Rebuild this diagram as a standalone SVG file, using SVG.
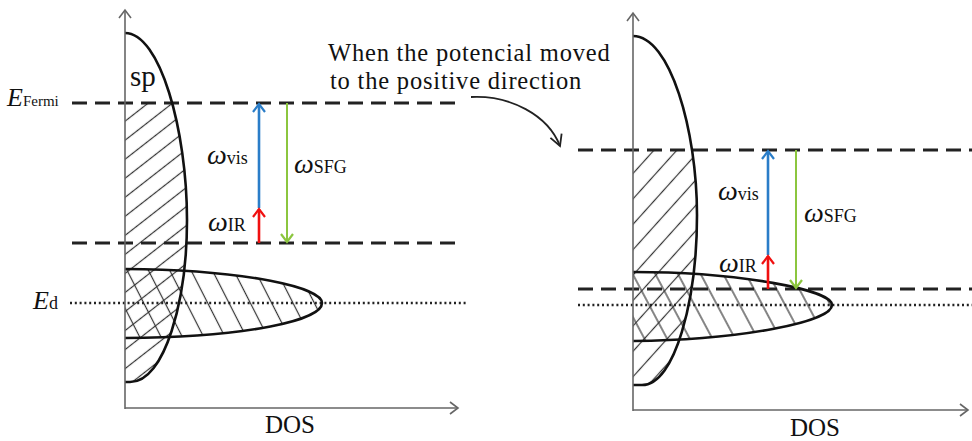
<svg xmlns="http://www.w3.org/2000/svg" width="972" height="441" viewBox="0 0 972 441">
<style>
text{font-family:"Liberation Serif","Times New Roman",serif;fill:#111}
.axis{stroke:#666;stroke-width:1.6;fill:none}
.curve{stroke:#111;stroke-width:2.6;fill:none}
.dash{stroke:#222;stroke-width:2.8;stroke-dasharray:15 8;fill:none}
.dot{stroke:#222;stroke-width:2.4;stroke-dasharray:2 2.8;fill:none}
.hatch{stroke:#333;stroke-width:1.2}
.w{font-style:italic;font-size:28px}
.sub{font-size:18px}
.big{font-size:24.5px;letter-spacing:0.8px}
</style>
<defs>
<marker id="axArrow" markerUnits="userSpaceOnUse" markerWidth="14" markerHeight="14" viewBox="0 0 14 14" refX="12" refY="7" orient="auto">
<path d="M4,1 L12,7 L4,13" fill="none" stroke="#666" stroke-width="1.6"/>
</marker>
<marker id="blueArrow" markerUnits="userSpaceOnUse" markerWidth="14" markerHeight="14" viewBox="0 0 14 14" refX="12" refY="7" orient="auto">
<path d="M4,1 L12,7 L4,13" fill="none" stroke="#2a7dc8" stroke-width="2.2"/>
</marker>
<marker id="redArrow" markerUnits="userSpaceOnUse" markerWidth="14" markerHeight="14" viewBox="0 0 14 14" refX="12" refY="7" orient="auto">
<path d="M4,1 L12,7 L4,13" fill="none" stroke="#f01010" stroke-width="2.2"/>
</marker>
<marker id="greenArrow" markerUnits="userSpaceOnUse" markerWidth="14" markerHeight="14" viewBox="0 0 14 14" refX="12" refY="7" orient="auto">
<path d="M4,1 L12,7 L4,13" fill="none" stroke="#8cc63f" stroke-width="2.2"/>
</marker>
<marker id="blackArrow" markerUnits="userSpaceOnUse" markerWidth="16" markerHeight="16" viewBox="0 0 16 16" refX="13" refY="8" orient="auto">
<path d="M2,2 L13,8 L2,14" fill="none" stroke="#222" stroke-width="1.8"/>
</marker>
<pattern id="hLsp" patternUnits="userSpaceOnUse" width="20" height="15" patternTransform="rotate(-38)"><line class="hatch" x1="0" y1="7.5" x2="20" y2="7.5"/></pattern>
<pattern id="hLd" patternUnits="userSpaceOnUse" width="20" height="19" patternTransform="rotate(63)"><line class="hatch" x1="0" y1="9.5" x2="20" y2="9.5"/></pattern>
<pattern id="hRsp" patternUnits="userSpaceOnUse" width="20" height="17" patternTransform="rotate(-48)"><line class="hatch" x1="0" y1="8.5" x2="20" y2="8.5"/></pattern>
<pattern id="hRd" patternUnits="userSpaceOnUse" width="20" height="20" patternTransform="rotate(62)"><line class="hatch" x1="0" y1="10" x2="20" y2="10"/></pattern>
<clipPath id="cLsp"><path d="M125,33 C160,33 187,130 187,220 C187,300 165,382 130,382 L125,382 Z"/></clipPath>
<clipPath id="cLd"><path d="M125,269 C250,270 322,288 322,303 C322,320 250,337 125,338 Z"/></clipPath>
<clipPath id="cRsp"><path d="M633,36 C670,36 697,130 697,215 C697,300 675,385 642,385 L633,385 Z"/></clipPath>
<clipPath id="cRd"><path d="M633,272 C740,272 832,290 832,305 C832,322 740,340 633,341 Z"/></clipPath>
</defs>

<g id="left-panel">
<g id="left-hatching">
<rect x="125" y="103" width="70" height="285" fill="url(#hLsp)" clip-path="url(#cLsp)"/>
<rect x="125" y="265" width="200" height="80" fill="url(#hLd)" clip-path="url(#cLd)"/>
</g>
<g id="left-levels">
<line class="dash" x1="72" y1="103" x2="460" y2="103"/>
<line class="dash" x1="72" y1="243" x2="460" y2="243"/>
<line class="dot" x1="70" y1="303" x2="468" y2="303"/>
</g>
<g id="left-sp-band">
<path class="curve" d="M125,33 C160,33 187,130 187,220 C187,300 165,382 130,382 L125,382"/>
<text x="130" y="86" style="font-size:29px">sp</text>
</g>
<g id="left-d-band">
<path class="curve" d="M125,269 C250,270 322,288 322,303 C322,320 250,337 125,338"/>
</g>
<g id="left-axes">
<line class="axis" x1="125" y1="409" x2="125" y2="10" marker-end="url(#axArrow)"/>
<line class="axis" x1="125" y1="408" x2="458" y2="408" marker-end="url(#axArrow)"/>
<text x="265" y="433" style="font-size:25px">DOS</text>
</g>
<g id="left-labels">
<text x="7" y="106"><tspan style="font-style:italic;font-size:26px">E</tspan><tspan style="font-size:15px">Fermi</tspan></text>
<text x="33" y="309"><tspan style="font-style:italic;font-size:26px">E</tspan><tspan style="font-size:18px">d</tspan></text>
<text x="207" y="164"><tspan class="w">ω</tspan><tspan class="sub">vis</tspan></text>
<text x="208" y="231"><tspan class="w">ω</tspan><tspan class="sub">IR</tspan></text>
<text x="294" y="173"><tspan class="w">ω</tspan><tspan class="sub">SFG</tspan></text>
</g>
</g>

<g id="right-panel">
<g id="right-hatching">
<rect x="633" y="150" width="70" height="240" fill="url(#hRsp)" clip-path="url(#cRsp)"/>
<rect x="633" y="268" width="205" height="80" fill="url(#hRd)" clip-path="url(#cRd)"/>
</g>
<g id="right-levels">
<line class="dash" x1="578" y1="150" x2="972" y2="150"/>
<line class="dash" x1="578" y1="289" x2="972" y2="289"/>
<line class="dot" x1="578" y1="305" x2="972" y2="305"/>
</g>
<g id="right-sp-band">
<path class="curve" d="M633,36 C670,36 697,130 697,215 C697,300 675,385 642,385 L633,385"/>
</g>
<g id="right-d-band">
<path class="curve" d="M633,272 C740,272 832,290 832,305 C832,322 740,340 633,341"/>
</g>
<g id="right-axes">
<line class="axis" x1="633" y1="411" x2="633" y2="13" marker-end="url(#axArrow)"/>
<line class="axis" x1="633" y1="410" x2="968" y2="410" marker-end="url(#axArrow)"/>
<text x="790" y="436" style="font-size:25px">DOS</text>
</g>
<g id="right-labels">
<text x="718" y="200"><tspan class="w">ω</tspan><tspan class="sub">vis</tspan></text>
<text x="719" y="272"><tspan class="w">ω</tspan><tspan class="sub">IR</tspan></text>
<text x="804" y="222"><tspan class="w">ω</tspan><tspan class="sub">SFG</tspan></text>
</g>
</g>

<g id="caption">
<text x="328" y="61" class="big">When the potencial moved</text>
<text x="330" y="88.5" class="big">to the positive direction</text>
</g>

<g id="connectors">
<line x1="259" y1="208" x2="259" y2="104" stroke="#2a7dc8" stroke-width="2.6" marker-end="url(#blueArrow)"/>
<line x1="259" y1="243" x2="259" y2="209" stroke="#f01010" stroke-width="2.6" marker-end="url(#redArrow)"/>
<line x1="287" y1="103" x2="287" y2="242" stroke="#8cc63f" stroke-width="2" marker-end="url(#greenArrow)"/>
<line x1="768" y1="255" x2="768" y2="151" stroke="#2a7dc8" stroke-width="2.6" marker-end="url(#blueArrow)"/>
<line x1="768" y1="289" x2="768" y2="256" stroke="#f01010" stroke-width="2.6" marker-end="url(#redArrow)"/>
<line x1="796" y1="150" x2="796" y2="288" stroke="#8cc63f" stroke-width="2" marker-end="url(#greenArrow)"/>
<path d="M471,97 C510,95 548,115 560,146" fill="none" stroke="#222" stroke-width="1.8" marker-end="url(#blackArrow)"/>
</g>
</svg>
